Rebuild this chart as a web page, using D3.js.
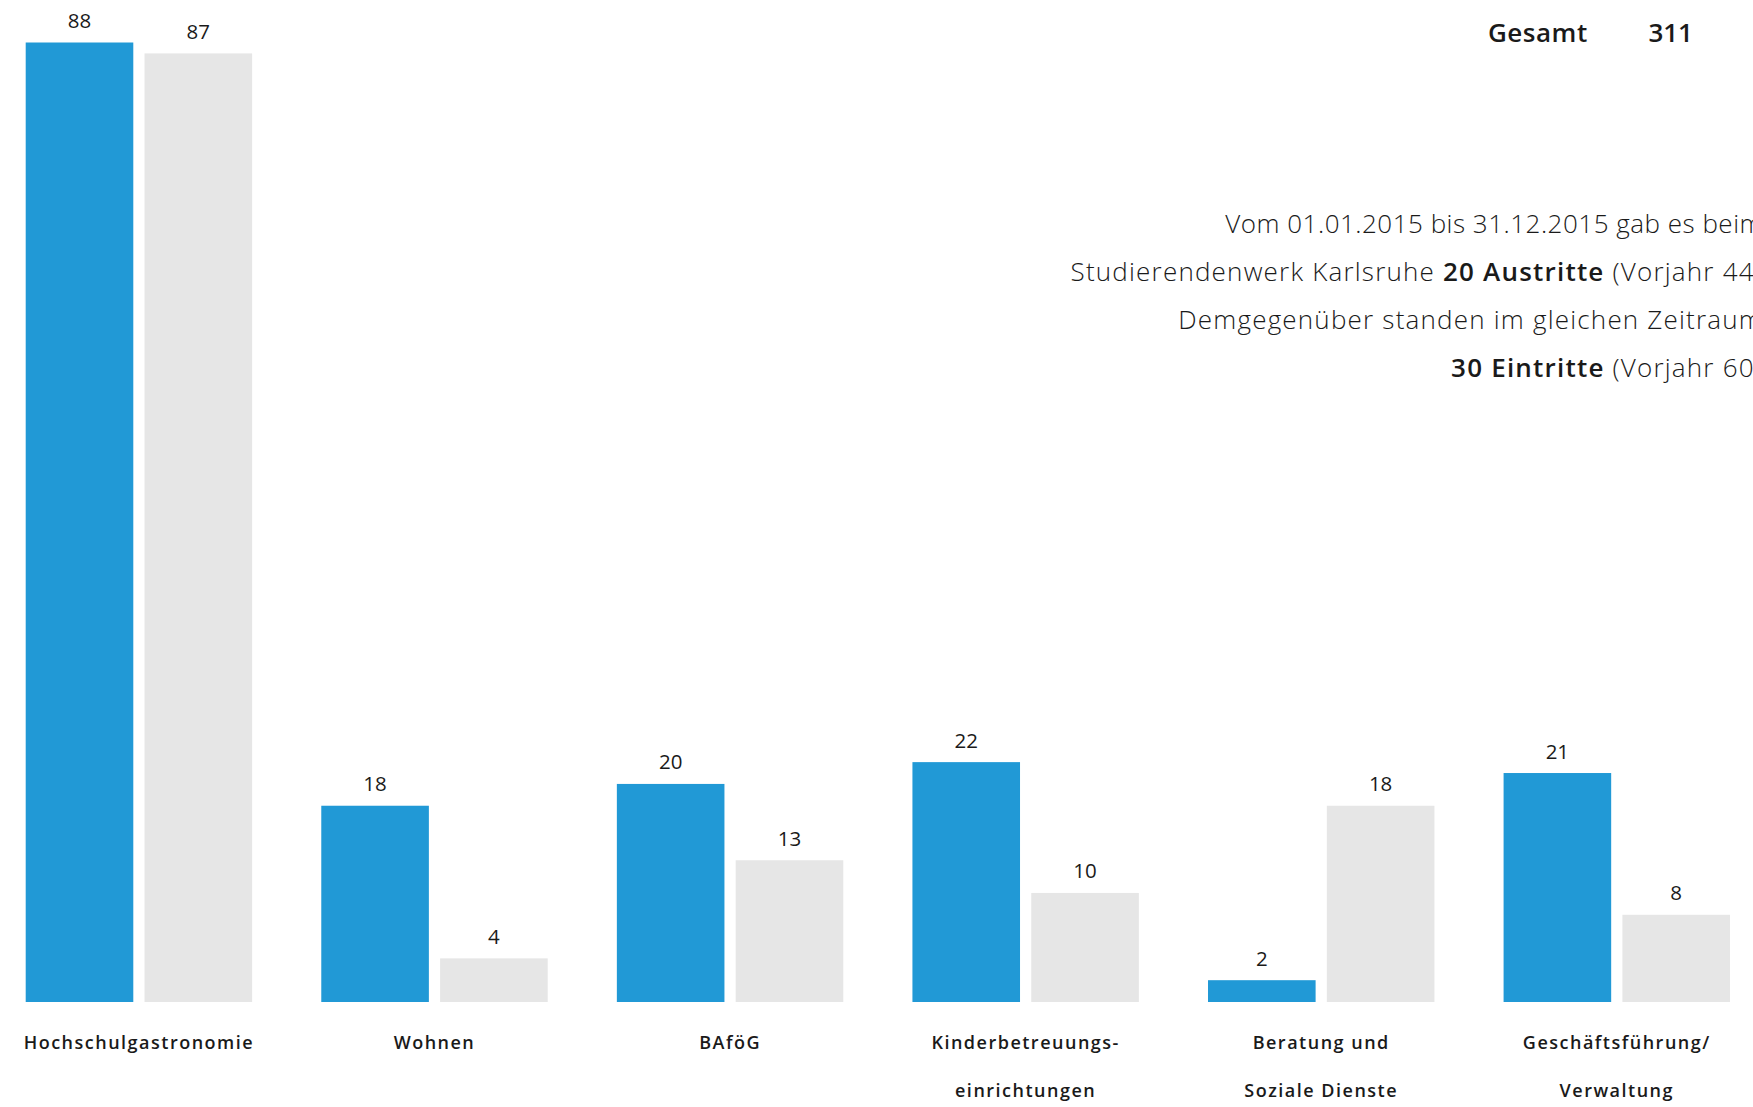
<!DOCTYPE html>
<html lang="de">
<head>
<meta charset="utf-8">
<script src="https://cdn.jsdelivr.net/npm/d3@7"></script>
<style>
  html, body { margin: 0; padding: 0; background: #fff; overflow: hidden; }
  svg { display: block; }
</style>
</head>
<body>
<svg id="chart" width="1753" height="1107"></svg>
<script>
// Bereiche (Kategorien), je Zeile der Beschriftung ein Eintrag
const categories = [
  ["Hochschulgastronomie"],
  ["Wohnen"],
  ["BAföG"],
  ["Kinderbetreuungs-", "einrichtungen"],
  ["Beratung und", "Soziale Dienste"],
  ["Geschäftsführung/", "Verwaltung"]
];
const seriesKeys = ["blau", "grau"];
const valuesBlue = [88, 18, 20, 22, 2, 21];
const valuesGrey = [87, 4, 13, 10, 18, 8];
const totalLabel = "Gesamt";
const totalValue = 311;
const noteLines = [
  [{t: "Vom 01.01.2015 bis 31.12.2015 gab es beim", b: false}],
  [{t: "Studierendenwerk Karlsruhe ", b: false}, {t: "20 Austritte", b: true}, {t: " (Vorjahr 44)", b: false}],
  [{t: "Demgegenüber standen im gleichen Zeitraum", b: false}],
  [{t: "30 Eintritte", b: true}, {t: " (Vorjahr 60)", b: false}]
];

const colors = {blau: "#2199d6", grau: "#e6e6e6"};
const font = "'Open Sans', 'Noto Sans', sans-serif";

const svg = d3.select("#chart");

const keys = categories.map((c, i) => i);
const x0 = d3.scaleBand().domain(keys).range([25.7, 1730]).paddingInner(0.234).paddingOuter(0);
const x1 = d3.scaleBand().domain(seriesKeys).range([0, x0.bandwidth()]).paddingInner(0.0945).paddingOuter(0);
const y = d3.scaleLinear().domain([0, 88]).range([1002, 42.5]);

const rows = keys.map(i => ({i, blau: valuesBlue[i], grau: valuesGrey[i]}));

const groups = svg.append("g").selectAll("g")
  .data(rows).join("g")
  .attr("transform", d => `translate(${x0(d.i)},0)`);

const bars = groups.selectAll("g.bar")
  .data(d => seriesKeys.map(k => ({k, v: d[k]})))
  .join("g").attr("class", "bar");

bars.append("rect")
  .attr("x", d => x1(d.k))
  .attr("width", x1.bandwidth())
  .attr("y", d => y(d.v))
  .attr("height", d => y(0) - y(d.v))
  .attr("fill", d => colors[d.k]);

bars.append("text")
  .attr("x", d => x1(d.k) + x1.bandwidth() / 2)
  .attr("y", d => y(d.v) - 14.5)
  .attr("text-anchor", "middle")
  .style("font-family", font)
  .style("font-size", "20.5px")
  .attr("fill", "#1a1a1a")
  .text(d => d.v);

// Kategorienbeschriftung unter den Balken
const xAxis = svg.append("g");
xAxis.selectAll("text")
  .data(keys).join("text")
  .attr("x", i => x0(i) + x0.bandwidth() / 2)
  .attr("y", 1049)
  .attr("text-anchor", "middle")
  .style("font-family", font)
  .style("font-size", "18px")
  .style("letter-spacing", "1.5px")
  .style("font-weight", 600)
  .attr("fill", "#1a1a1a")
  .selectAll("tspan")
  .data(i => categories[i])
  .join("tspan")
  .attr("x", function() { return d3.select(this.parentNode).attr("x"); })
  .attr("dy", (d, j) => j === 0 ? 0 : 48)
  .text(d => d);

// Gesamtsumme oben rechts
svg.append("text")
  .attr("x", 1488).attr("y", 42)
  .style("font-family", font).style("font-size", "26px").style("font-weight", 600)
  .style("letter-spacing", "0.5px")
  .attr("fill", "#1a1a1a")
  .text(totalLabel);
svg.append("text")
  .attr("x", 1693).attr("y", 42)
  .attr("text-anchor", "end")
  .style("font-family", font).style("font-size", "26px").style("font-weight", 600)
  .attr("fill", "#1a1a1a")
  .text(totalValue);

// Erläuterungstext, rechtsbündig (Ziffernzeile etwas enger gesetzt)
const note = svg.append("g");
noteLines.forEach((parts, li) => {
  const t = note.append("text")
    .attr("x", 1763).attr("y", 233 + li * 48)
    .attr("text-anchor", "end")
    .style("font-family", font).style("font-size", "26px")
    .style("letter-spacing", li === 0 ? "0.5px" : "1.2px")
    .attr("fill", "#1a1a1a");
  parts.forEach(p => {
    t.append("tspan")
      .style("font-weight", p.b ? 600 : 300)
      .text(p.t);
  });
});
</script>
</body>
</html>
